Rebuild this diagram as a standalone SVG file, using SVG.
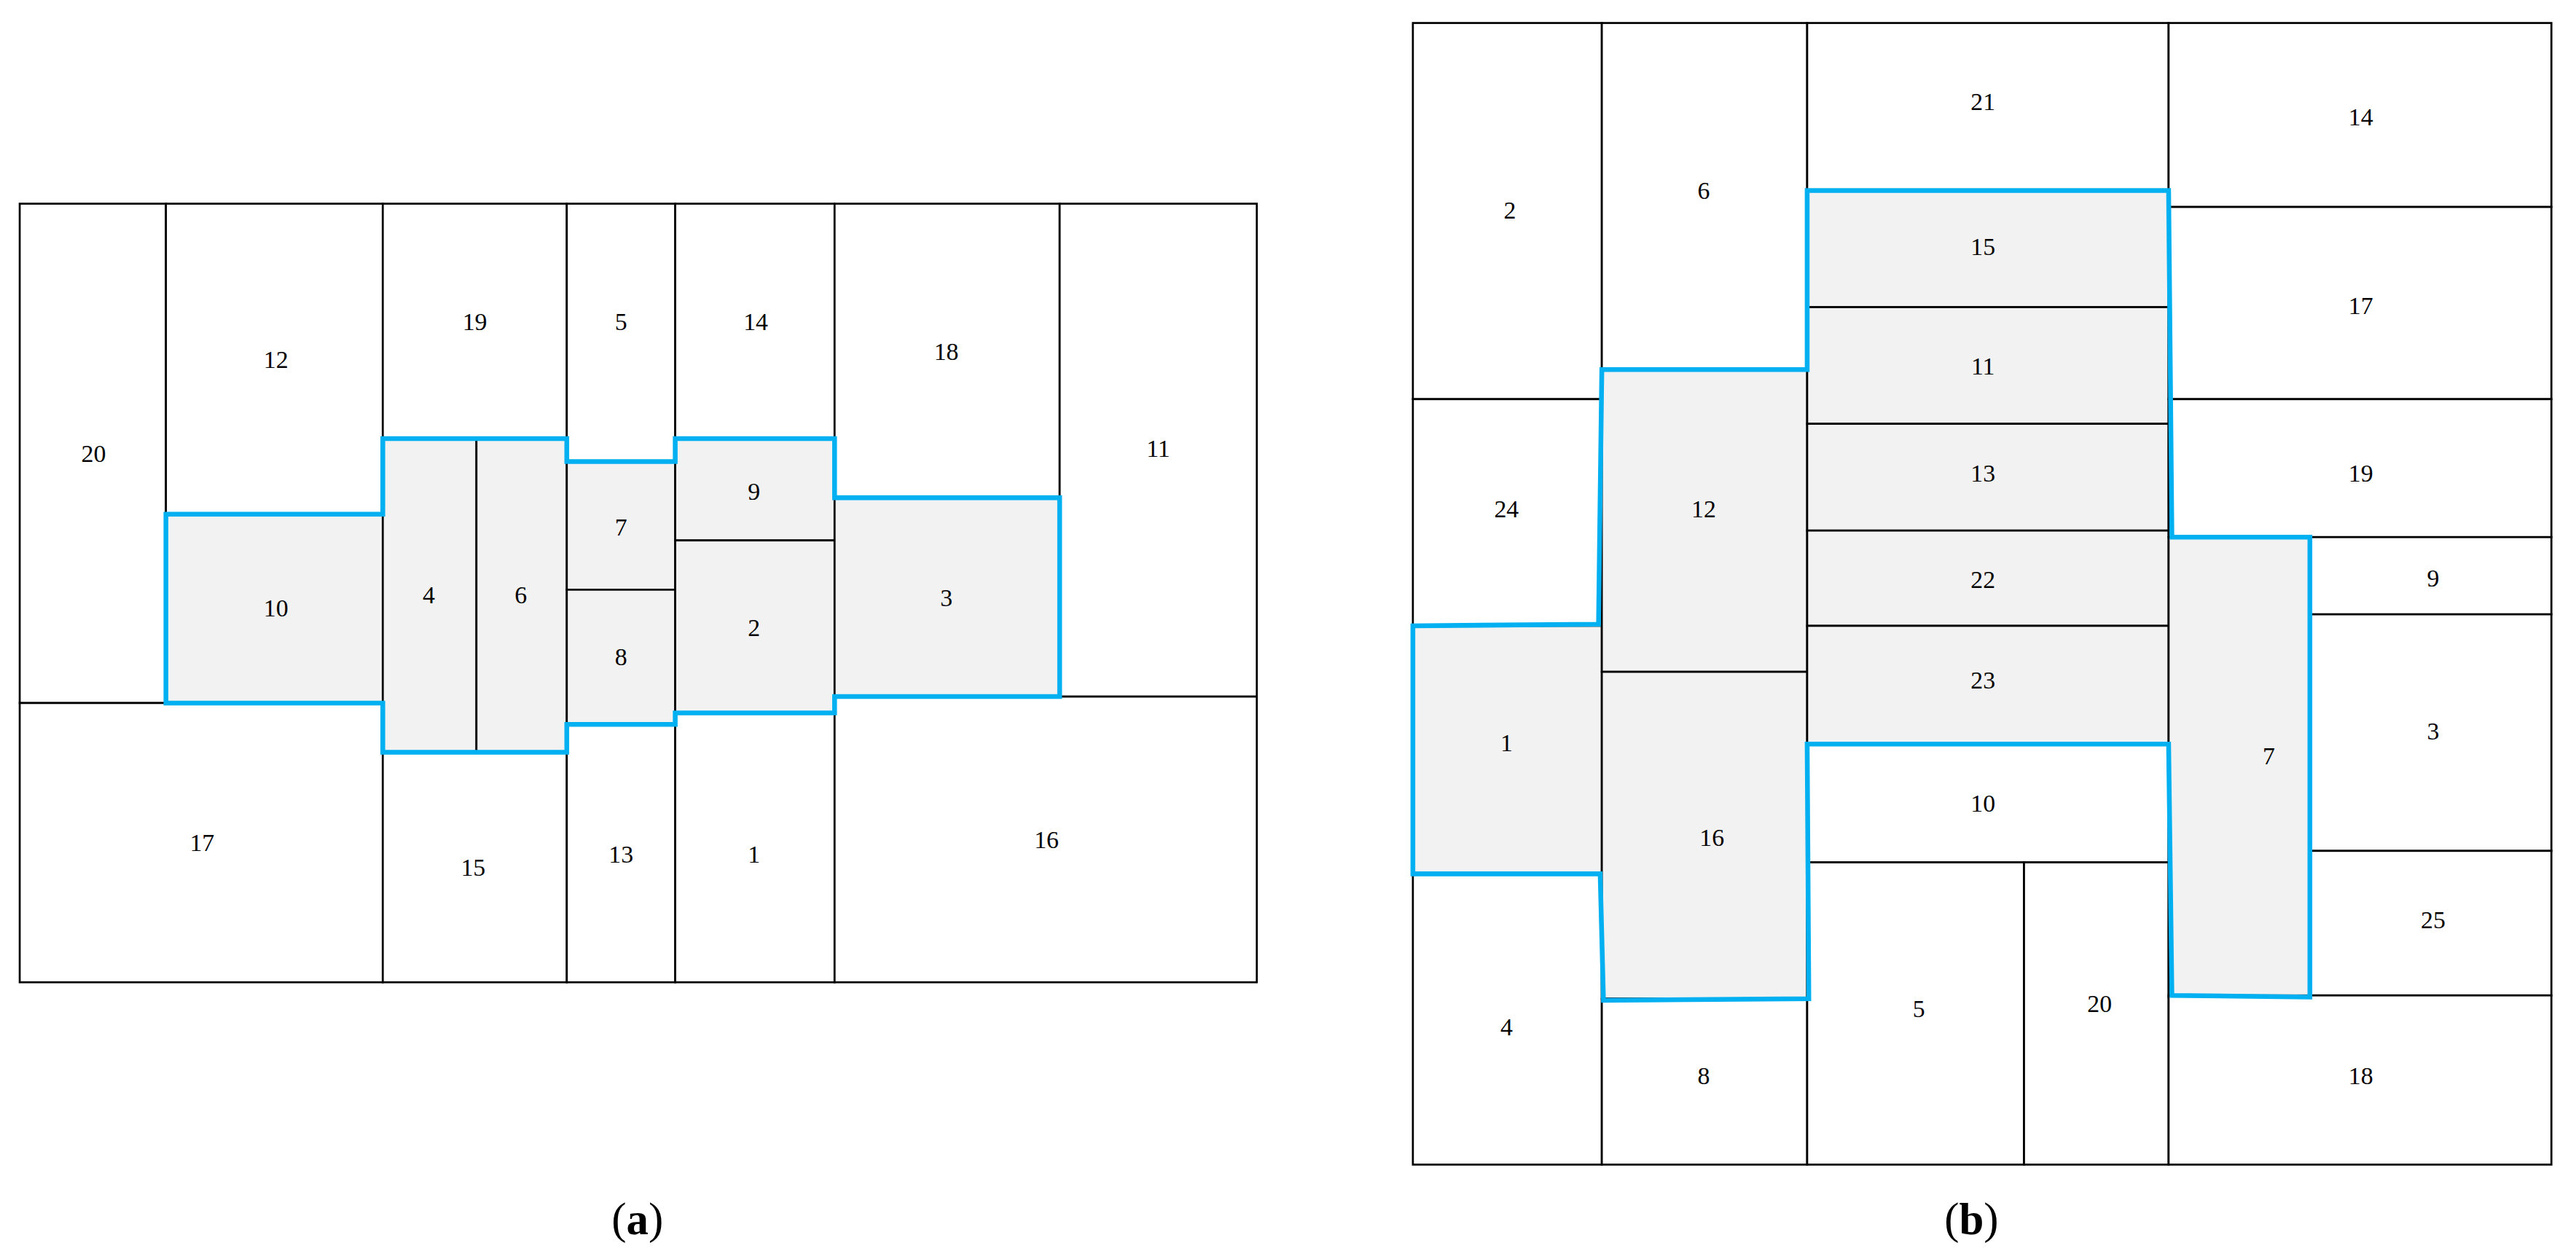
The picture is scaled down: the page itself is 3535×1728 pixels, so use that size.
<svg xmlns="http://www.w3.org/2000/svg" width="3535" height="1728" viewBox="0 0 3535 1728">
<style>
.c{fill:#fff;stroke:#000;stroke-width:1.2}
.s{fill:#f2f2f2;stroke:#000;stroke-width:1.2}
.b{fill:none;stroke:#00b0f0;stroke-width:2.9;stroke-linejoin:miter}
text{font-family:"Liberation Serif",serif;font-size:15px;text-anchor:middle;dominant-baseline:central}
.cap{font-size:27px}
</style>
<rect width="3535" height="1728" fill="#fff"/>
<g transform="scale(2.2545)">
<g id="panel-a">
<g id="a20"><rect class="c" x="12" y="124" width="89" height="304"/><text x="57" y="276">20</text></g>
<g id="a17"><rect class="c" x="12" y="428" width="221" height="170"/><text x="123" y="513">17</text></g>
<g id="a12"><rect class="c" x="101" y="124" width="132" height="189"/><text x="168" y="219">12</text></g>
<g id="a10"><rect class="s" x="101" y="313" width="132" height="115"/><text x="168" y="370">10</text></g>
<g id="a19"><rect class="c" x="233" y="124" width="112" height="143"/><text x="289" y="196">19</text></g>
<g id="a4"><rect class="s" x="233" y="267" width="57" height="191"/><text x="261" y="362">4</text></g>
<g id="a6"><rect class="s" x="290" y="267" width="55" height="191"/><text x="317" y="362">6</text></g>
<g id="a15"><rect class="c" x="233" y="458" width="112" height="140"/><text x="288" y="528">15</text></g>
<g id="a5"><rect class="c" x="345" y="124" width="66" height="157"/><text x="378" y="196">5</text></g>
<g id="a7"><rect class="s" x="345" y="281" width="66" height="78"/><text x="378" y="321">7</text></g>
<g id="a8"><rect class="s" x="345" y="359" width="66" height="82"/><text x="378" y="400">8</text></g>
<g id="a13"><rect class="c" x="345" y="441" width="66" height="157"/><text x="378" y="520">13</text></g>
<g id="a14"><rect class="c" x="411" y="124" width="97" height="143"/><text x="460" y="196">14</text></g>
<g id="a9"><rect class="s" x="411" y="267" width="97" height="62"/><text x="459" y="299">9</text></g>
<g id="a2"><rect class="s" x="411" y="329" width="97" height="105"/><text x="459" y="382">2</text></g>
<g id="a1"><rect class="c" x="411" y="434" width="97" height="164"/><text x="459" y="520">1</text></g>
<g id="a18"><rect class="c" x="508" y="124" width="137" height="179"/><text x="576" y="214">18</text></g>
<g id="a3"><rect class="s" x="508" y="303" width="137" height="121"/><text x="576" y="364">3</text></g>
<g id="a16"><rect class="c" x="508" y="424" width="257" height="174"/><text x="637" y="511">16</text></g>
<g id="a11"><rect class="c" x="645" y="124" width="120" height="300"/><text x="705" y="273">11</text></g>
<text class="cap" x="388" y="742">(<tspan font-weight="bold">a</tspan>)</text>
</g>
<g id="panel-b">
<g id="b2"><rect class="c" x="860" y="14" width="115" height="229"/><text x="919" y="128">2</text></g>
<g id="b24"><rect class="c" x="860" y="243" width="115" height="138"/><text x="917" y="310">24</text></g>
<g id="b1"><rect class="s" x="860" y="381" width="115" height="151"/><text x="917" y="452">1</text></g>
<g id="b4"><rect class="c" x="860" y="532" width="115" height="177"/><text x="917" y="625">4</text></g>
<g id="b6"><rect class="c" x="975" y="14" width="125" height="211"/><text x="1037" y="116">6</text></g>
<g id="b12"><rect class="s" x="975" y="225" width="125" height="184"/><text x="1037" y="310">12</text></g>
<g id="b16"><rect class="s" x="975" y="409" width="125" height="199"/><text x="1042" y="510">16</text></g>
<g id="b8"><rect class="c" x="975" y="608" width="125" height="101"/><text x="1037" y="655">8</text></g>
<g id="b21"><rect class="c" x="1100" y="14" width="220" height="102"/><text x="1207" y="62">21</text></g>
<g id="b15"><rect class="s" x="1100" y="116" width="220" height="71"/><text x="1207" y="150">15</text></g>
<g id="b11"><rect class="s" x="1100" y="187" width="220" height="71"/><text x="1207" y="223">11</text></g>
<g id="b13"><rect class="s" x="1100" y="258" width="220" height="65"/><text x="1207" y="288">13</text></g>
<g id="b22"><rect class="s" x="1100" y="323" width="220" height="58"/><text x="1207" y="353">22</text></g>
<g id="b23"><rect class="s" x="1100" y="381" width="220" height="72"/><text x="1207" y="414">23</text></g>
<g id="b10"><rect class="c" x="1100" y="453" width="220" height="72"/><text x="1207" y="489">10</text></g>
<g id="b5"><rect class="c" x="1100" y="525" width="132" height="184"/><text x="1168" y="614">5</text></g>
<g id="b20"><rect class="c" x="1232" y="525" width="88" height="184"/><text x="1278" y="611">20</text></g>
<g id="b14"><rect class="c" x="1320" y="14" width="233" height="112"/><text x="1437" y="71">14</text></g>
<g id="b17"><rect class="c" x="1320" y="126" width="233" height="117"/><text x="1437" y="186">17</text></g>
<g id="b19"><rect class="c" x="1320" y="243" width="233" height="84"/><text x="1437" y="288">19</text></g>
<g id="b7"><rect class="s" x="1320" y="327" width="86" height="280"/><text x="1381" y="460">7</text></g>
<g id="b9"><rect class="c" x="1406" y="327" width="147" height="47"/><text x="1481" y="352">9</text></g>
<g id="b3"><rect class="c" x="1406" y="374" width="147" height="144"/><text x="1481" y="445">3</text></g>
<g id="b25"><rect class="c" x="1406" y="518" width="147" height="88"/><text x="1481" y="560">25</text></g>
<g id="b18"><rect class="c" x="1320" y="606" width="233" height="103"/><text x="1437" y="655">18</text></g>
<text class="cap" x="1200" y="742">(<tspan font-weight="bold">b</tspan>)</text>
</g>
<g id="connectors">
<polygon class="b" points="101,313 233,313 233,267 345,267 345,281 411,281 411,267 508,267 508,303 645,303 645,424 508,424 508,434 411,434 411,441 345,441 345,458 233,458 233,428 101,428"/>
<polygon class="b" points="1100,116 1320,116 1322,327 1406,327 1406,607 1322,606 1320,453 1100,453 1101,608 976,609 974,532 860,532 860,381 973,380 975,225 1100,225"/>
</g>
</g>
</svg>
